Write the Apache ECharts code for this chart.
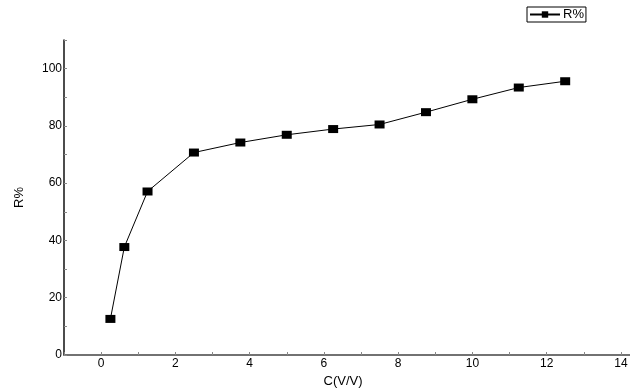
<!DOCTYPE html>
<html>
<head>
<meta charset="utf-8">
<script src="https://cdn.jsdelivr.net/npm/echarts@6/dist/echarts.min.js"></script>
<style>
    html, body { margin: 0; padding: 0; background: #fff; }
    #myChart { width: 630px; height: 392px; }
</style>
</head>
<body>
<div id="myChart"></div>
<script>
    // 数据
    var concentration = [0.25, 0.625, 1.25, 2.5, 3.75, 5, 6.25, 7.5, 8.75, 10, 11.25, 12.5];
    var removal = [12.6, 37.7, 57.1, 70.7, 74.2, 76.9, 78.9, 80.5, 84.8, 89.3, 93.4, 95.6];
    var xLabels = [0, 2, 4, 6, 8, 10, 12, 14];
    var yLabels = [0, 20, 40, 60, 80, 100];

    var points = concentration.map(function (c, i) {
        return [c, removal[i]];
    });

    var font = 'Liberation Sans, Arial, sans-serif';

    var option = {
        backgroundColor: '#fff',
        animation: false,
        textStyle: { fontFamily: font, color: '#000' },
        legend: {
            left: 527,
            top: 7,
            itemWidth: 30,
            itemHeight: 8,
            itemGap: 4,
            padding: [1, 2, 1, 2],
            borderColor: '#000',
            borderWidth: 1,
            borderRadius: 0,
            textStyle: { fontFamily: font, fontSize: 13, color: '#000', padding: [0, 0, 0, -2] },
            data: ['R%']
        },
        grid: {
            left: 64,
            width: 594,
            top: 40,
            bottom: 37,
            containLabel: false,
            outerBoundsMode: 'none'
        },
        xAxis: {
            type: 'value',
            min: -1,
            max: 15,
            interval: 1,
            name: 'C(V/V)',
            nameLocation: 'middle',
            nameGap: 20,
            nameTextStyle: { fontFamily: font, fontSize: 13, color: '#000', padding: [0, 36, 0, 0] },
            splitLine: { show: false },
            axisLine: { onZero: false, lineStyle: { color: '#444', width: 1.5 } },
            axisTick: { inside: true, length: 3, lineStyle: { color: '#888' } },
            axisLabel: {
                fontFamily: font,
                fontSize: 12,
                color: '#000',
                margin: 3,
                formatter: function (v) {
                    return xLabels.indexOf(v) >= 0 ? String(v) : '';
                }
            }
        },
        yAxis: {
            type: 'value',
            min: 0,
            max: 110,
            interval: 10,
            name: 'R%',
            nameLocation: 'middle',
            nameGap: 38,
            nameTextStyle: { fontFamily: font, fontSize: 13, color: '#000' },
            splitLine: { show: false },
            axisLine: { show: true, onZero: false, lineStyle: { color: '#111', width: 1.5 } },
            axisTick: { show: true, inside: true, length: 3, lineStyle: { color: '#888' } },
            axisLabel: {
                fontFamily: font,
                fontSize: 12,
                color: '#000',
                margin: 2,
                formatter: function (v) {
                    return yLabels.indexOf(v) >= 0 ? String(v) : '';
                }
            }
        },
        series: [{
            name: 'R%',
            type: 'line',
            data: points,
            symbol: 'rect',
            symbolSize: [10, 8],
            lineStyle: { color: '#000', width: 1 },
            itemStyle: { color: '#000' }
        }]
    };

    var myChart = echarts.init(document.getElementById('myChart'));
    myChart.setOption(option);
</script>
</body>
</html>
